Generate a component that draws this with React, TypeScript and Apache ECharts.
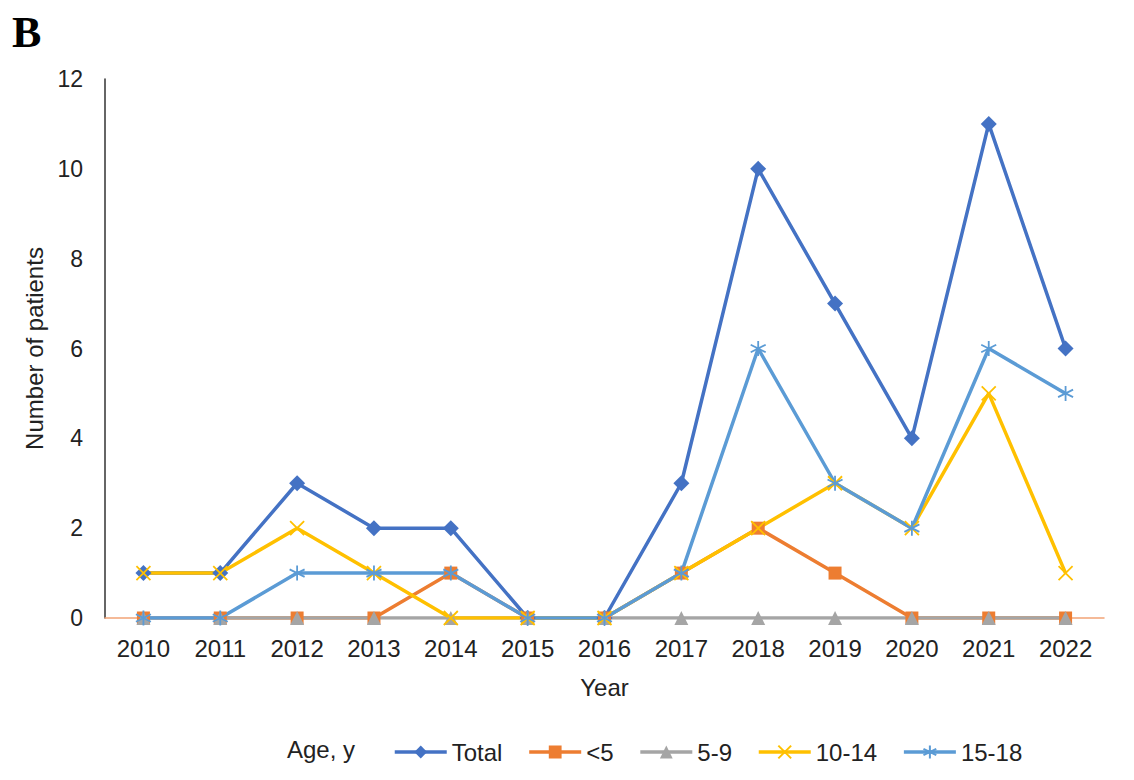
import React, { useEffect, useRef } from "react";
import * as echarts from "echarts";

const years = ["2010", "2011", "2012", "2013", "2014", "2015", "2016", "2017", "2018", "2019", "2020", "2021", "2022"];
const total = [1, 1, 3, 2, 2, 0, 0, 3, 10, 7, 4, 11, 6];
const under5 = [0, 0, 0, 0, 1, 0, 0, 1, 2, 1, 0, 0, 0];
const age5to9 = [0, 0, 0, 0, 0, 0, 0, 0, 0, 0, 0, 0, 0];
const age10to14 = [1, 1, 2, 1, 0, 0, 0, 1, 2, 3, 2, 5, 1];
const age15to18 = [0, 0, 1, 1, 1, 0, 0, 1, 6, 3, 2, 6, 5];
const seriesNames = ["Total", "<5", "5-9", "10-14", "15-18"];
const yTicks = { min: 0, max: 12, interval: 2 };

const FONT = "Liberation Sans, Arial, sans-serif";

export default function App() {
  const ref = useRef<HTMLDivElement>(null);
  useEffect(() => {
    if (!ref.current) return;
    const chart = echarts.init(ref.current, undefined, { renderer: "svg" });
    const xPath = "path://M0,0L10,10M10,0L0,10";
    const starPath = "path://M5,0L5,10M0.67,2.5L9.33,7.5M0.67,7.5L9.33,2.5";
    const mk = (name: string, data: number[], color: string, symbol: string, size: number, stroke: boolean) => ({
      name,
      type: "line",
      data,
      symbol,
      symbolSize: size,
      showAllSymbol: true,
      lineStyle: { color, width: 3.5 },
      itemStyle: stroke
        ? { color, borderColor: color, borderWidth: 1.8 }
        : { color, borderWidth: 0 },
      emphasis: { disabled: true },
    });
    chart.setOption({
      animation: false,
      textStyle: { fontFamily: FONT },
      grid: { left: 105, right: 30, top: 79, bottom: 162 },
      graphic: [
        {
          type: "text",
          left: 12,
          top: 10,
          style: { text: "B", fontFamily: "Liberation Serif, Times New Roman, serif", fontWeight: "bold", fontSize: 44, fill: "#000" },
        },
        {
          type: "text",
          left: 287,
          top: 737,
          style: { text: "Age, y", fontFamily: FONT, fontSize: 24, fill: "#222" },
        },
      ],
      legend: {
        left: 388,
        top: 735,
        itemWidth: 52,
        itemHeight: 16,
        itemGap: 25,
        lineStyle: { width: 3.5 },
        textStyle: { fontFamily: FONT, fontSize: 24, color: "#222" },
        data: seriesNames,
      },
      xAxis: {
        type: "category",
        data: years,
        boundaryGap: true,
        axisLine: { lineStyle: { color: "#F2A477", width: 1.5 } },
        axisTick: { show: false },
        axisLabel: { fontFamily: FONT, fontSize: 24, color: "#222", margin: 18 },
        name: "Year",
        nameLocation: "middle",
        nameGap: 57,
        nameTextStyle: { fontFamily: FONT, fontSize: 24, color: "#222", verticalAlign: "top" },
      },
      yAxis: {
        type: "value",
        min: yTicks.min,
        max: yTicks.max,
        interval: yTicks.interval,
        splitLine: { show: false },
        axisLine: { show: true, lineStyle: { color: "#333", width: 1.5 } },
        axisTick: { show: false },
        axisLabel: { fontFamily: FONT, fontSize: 23, color: "#222", margin: 22 },
        name: "Number of patients",
        nameLocation: "middle",
        nameGap: 53,
        nameTextStyle: { fontFamily: FONT, fontSize: 24, color: "#222" },
      },
      series: [
        mk("Total", total, "#4472C4", "diamond", 16, false),
        mk("<5", under5, "#ED7D31", "rect", 13, false),
        mk("5-9", age5to9, "#A5A5A5", "triangle", 14, false),
        mk("10-14", age10to14, "#FFC000", xPath, 14, true),
        mk("15-18", age15to18, "#5B9BD5", starPath, 15, true),
      ],
    });
    return () => chart.dispose();
  }, []);
  return <div ref={ref} style={{ position: "absolute", left: 0, top: 0, width: 1134, height: 780 }} />;
}
